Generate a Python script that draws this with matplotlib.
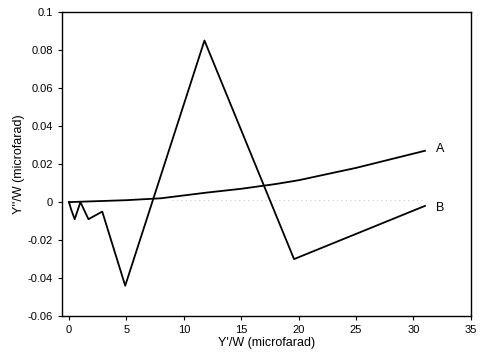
import matplotlib
matplotlib.use("Agg")
import matplotlib.pyplot as plt

plt.rcParams['font.family'] = ['Liberation Sans', 'DejaVu Sans']

a_x = [0, 5, 8, 10, 12, 15, 18, 20, 25, 31]
a_y = [0, 0.001, 0.002, 0.0035, 0.005, 0.007, 0.0095, 0.0115, 0.018, 0.027]

b_x = [0, 0.2, 0.5, 1.0, 1.7, 2.9, 4.9, 11.8, 19.6, 31]
b_y = [0, -0.004, -0.009, 0, -0.009, -0.005, -0.044, 0.085, -0.030, -0.002]

faint_x = [9, 31]
faint_y = [0.001, 0.001]

x_ticks = [0, 5, 10, 15, 20, 25, 30, 35]
y_ticks = [0.1, 0.08, 0.06, 0.04, 0.02, 0, -0.02, -0.04, -0.06]
y_tick_labels = ['0.1', '0.08', '0.06', '0.04', '0.02', '0', '-0.02', '-0.04', '-0.06']

fig = plt.figure(figsize=(4.81, 3.54), dpi=100)
ax = fig.add_axes([0.129, 0.107, 0.850, 0.859])

ax.plot(faint_x, faint_y, color='#cccccc', lw=0.8, ls=(0, (1, 3)))
ax.plot(a_x, a_y, color='black', lw=1.3)
ax.plot(b_x, b_y, color='black', lw=1.3)

ax.text(32, a_y[-1] + 0.001, 'A', fontsize=9, va='center', ha='left')
ax.text(32, b_y[-1] - 0.001, 'B', fontsize=9, va='center', ha='left')

ax.set_xlim(-0.6, 35)
ax.set_ylim(-0.06, 0.1)
ax.set_xticks(x_ticks)
ax.set_yticks(y_ticks)
ax.set_yticklabels(y_tick_labels)
ax.tick_params(direction='out', length=3, width=0.8, labelsize=8)
for s in ax.spines.values():
    s.set_linewidth(1.0)

ax.set_xlabel("Y'/W (microfarad)", fontsize=9, labelpad=1)
ax.set_ylabel("Y''/W (microfarad)", fontsize=9, labelpad=2)

fig.savefig('out.png', dpi=100)
